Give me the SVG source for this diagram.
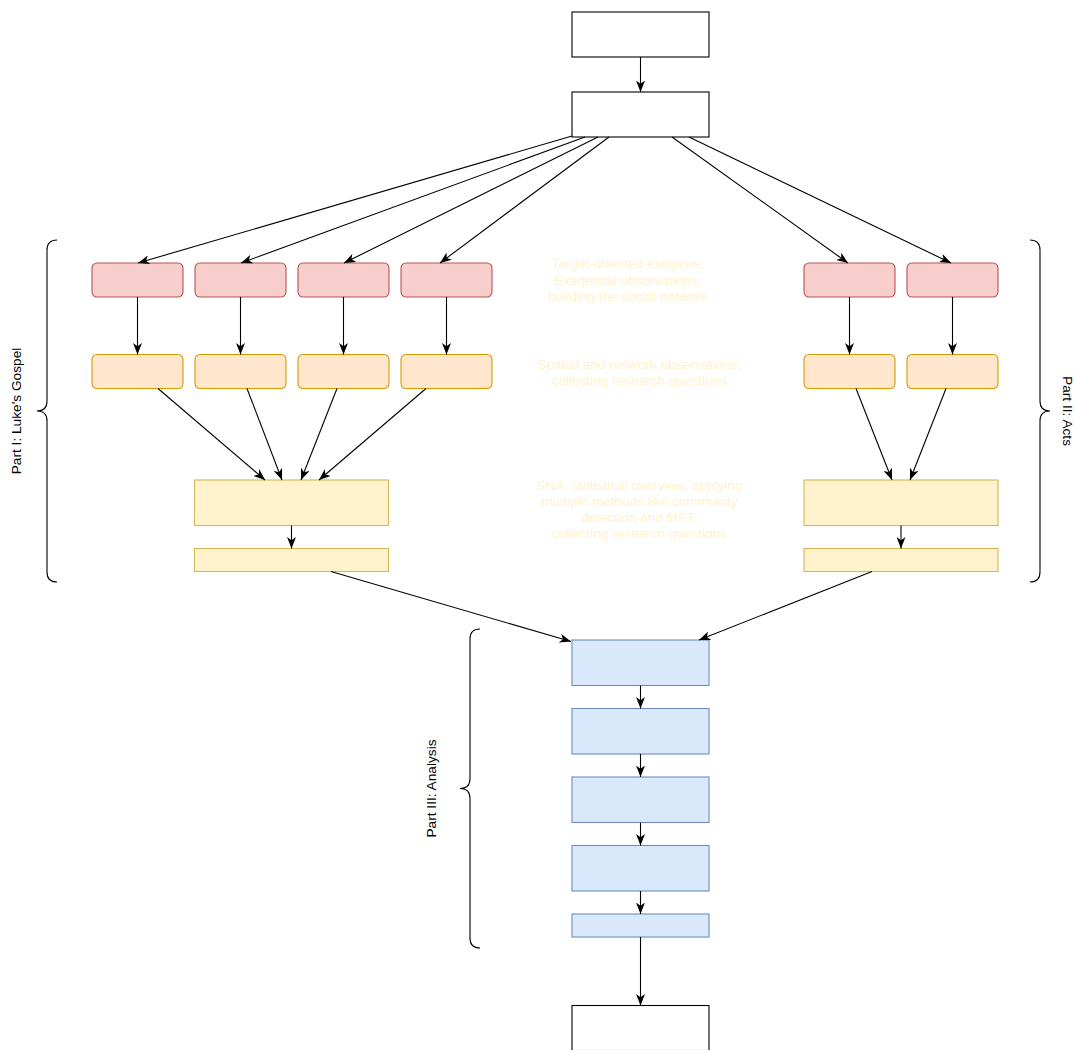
<svg xmlns="http://www.w3.org/2000/svg" width="1075" height="1050" viewBox="0 0 1075 1050">
  <style>
    .plain { fill: #ffffff; stroke: #000000; stroke-width: 1.1; }
    .red { fill: #f8cecc; stroke: #b85450; stroke-width: 1.1; }
    .orange { fill: #ffe6cc; stroke: #d79b00; stroke-width: 1.1; }
    .yellow { fill: #fff2cc; stroke: #d6b656; stroke-width: 1.1; }
    .blue { fill: #dae8fc; stroke: #6c8ebf; stroke-width: 1.1; }
    .edge { fill: none; stroke: #000000; stroke-width: 1.1; marker-end: url(#arrow); }
    .brace { fill: none; stroke: #000000; stroke-width: 1.1; }
    .label { font-family: "Liberation Sans", Arial, sans-serif; font-size: 13.7px; fill: #000000; text-anchor: middle; }
    .note { font-family: "Liberation Sans", Arial, sans-serif; font-size: 13.6px; fill: #fff2cc; text-anchor: middle; }
  </style>
  <defs>
    <marker id="arrow" markerUnits="userSpaceOnUse" viewBox="0 0 12 9" markerWidth="12" markerHeight="9" refX="11.5" refY="4.5" orient="auto">
      <path d="M0,0 L11.5,4.5 L0,9 L3.2,4.5 Z" fill="#000000"/>
    </marker>
  </defs>

  <!-- top boxes -->
  <g id="start"><rect class="plain" x="572" y="12" width="137" height="45"/></g>
  <g id="source"><rect class="plain" x="572" y="92" width="137" height="45"/></g>

  <!-- Part I: Luke's Gospel -->
  <g id="luke-exegesis-1"><rect class="red" x="92" y="263" width="91" height="34" rx="5"/></g>
  <g id="luke-exegesis-2"><rect class="red" x="195" y="263" width="91" height="34" rx="5"/></g>
  <g id="luke-exegesis-3"><rect class="red" x="298" y="263" width="91" height="34" rx="5"/></g>
  <g id="luke-exegesis-4"><rect class="red" x="401" y="263" width="91" height="34" rx="5"/></g>
  <g id="luke-observe-1"><rect class="orange" x="92" y="354.5" width="91" height="34" rx="5"/></g>
  <g id="luke-observe-2"><rect class="orange" x="195" y="354.5" width="91" height="34" rx="5"/></g>
  <g id="luke-observe-3"><rect class="orange" x="298" y="354.5" width="91" height="34" rx="5"/></g>
  <g id="luke-observe-4"><rect class="orange" x="401" y="354.5" width="91" height="34" rx="5"/></g>
  <g id="luke-sna"><rect class="yellow" x="194.5" y="480" width="194" height="45.5"/></g>
  <g id="luke-questions"><rect class="yellow" x="194.5" y="548.5" width="194" height="23"/></g>

  <!-- Part II: Acts -->
  <g id="acts-exegesis-1"><rect class="red" x="804" y="263" width="91" height="34" rx="5"/></g>
  <g id="acts-exegesis-2"><rect class="red" x="907" y="263" width="91" height="34" rx="5"/></g>
  <g id="acts-observe-1"><rect class="orange" x="804" y="354.5" width="91" height="34" rx="5"/></g>
  <g id="acts-observe-2"><rect class="orange" x="907" y="354.5" width="91" height="34" rx="5"/></g>
  <g id="acts-sna"><rect class="yellow" x="804" y="480" width="194" height="45.5"/></g>
  <g id="acts-questions"><rect class="yellow" x="804" y="548.5" width="194" height="23"/></g>

  <!-- Part III: Analysis -->
  <g id="analysis-1"><rect class="blue" x="572" y="640" width="137" height="45.5"/></g>
  <g id="analysis-2"><rect class="blue" x="572" y="708.5" width="137" height="45.5"/></g>
  <g id="analysis-3"><rect class="blue" x="572" y="777" width="137" height="45.5"/></g>
  <g id="analysis-4"><rect class="blue" x="572" y="845.5" width="137" height="45.5"/></g>
  <g id="analysis-5"><rect class="blue" x="572" y="914" width="137" height="23"/></g>

  <g id="end"><rect class="plain" x="572" y="1005.5" width="137" height="45"/></g>

  <!-- step descriptions -->
  <g id="step-notes">
    <text class="note" x="628" y="268">Target-oriented exegesis;</text>
    <text class="note" x="628" y="284.5">Exegetical observations;</text>
    <text class="note" x="628" y="301">building the social network</text>
    <text class="note" x="639.5" y="368.5">Spatial and network observations;</text>
    <text class="note" x="639.5" y="385">collecting research questions</text>
    <text class="note" x="639.5" y="489.5">SNA, statistical overview, applying</text>
    <text class="note" x="639.5" y="505.5">multiple methods like community</text>
    <text class="note" x="639.5" y="521.5">detection and MST;</text>
    <text class="note" x="639.5" y="537.5">collecting research questions</text>
  </g>

  <!-- section braces -->
  <g id="part-1">
    <path class="brace" d="M57,240 Q47,240 47,250 L47,401 Q47,411 37,411 Q47,411 47,421 L47,572 Q47,582 57,582"/>
    <text class="label" transform="translate(21,411) rotate(-90)">Part I: Luke's Gospel</text>
  </g>
  <g id="part-2">
    <path class="brace" d="M1030,240 Q1040,240 1040,250 L1040,401 Q1040,411 1050,411 Q1040,411 1040,421 L1040,572 Q1040,582 1030,582"/>
    <text class="label" transform="translate(1063,411) rotate(90)">Part II: Acts</text>
  </g>
  <g id="part-3">
    <path class="brace" d="M480,629 Q470,629 470,639 L470,778.5 Q470,788.5 460,788.5 Q470,788.5 470,798.5 L470,938 Q470,948 480,948"/>
    <text class="label" transform="translate(436,788.5) rotate(-90)">Part III: Analysis</text>
  </g>

  <!-- connectors -->
  <g id="connectors">
    <line class="edge" x1="640.5" y1="57" x2="640.5" y2="92"/>

    <line class="edge" x1="572" y1="136" x2="138" y2="263"/>
    <line class="edge" x1="585" y1="137" x2="241" y2="263"/>
    <line class="edge" x1="598" y1="137" x2="344" y2="263"/>
    <line class="edge" x1="609" y1="137" x2="440" y2="263"/>
    <line class="edge" x1="672" y1="137" x2="848" y2="263"/>
    <line class="edge" x1="689" y1="137" x2="951" y2="263"/>

    <line class="edge" x1="137.5" y1="297" x2="137.5" y2="354.5"/>
    <line class="edge" x1="240.5" y1="297" x2="240.5" y2="354.5"/>
    <line class="edge" x1="343.5" y1="297" x2="343.5" y2="354.5"/>
    <line class="edge" x1="446.5" y1="297" x2="446.5" y2="354.5"/>
    <line class="edge" x1="849.5" y1="297" x2="849.5" y2="354.5"/>
    <line class="edge" x1="952.5" y1="297" x2="952.5" y2="354.5"/>

    <line class="edge" x1="158" y1="388.5" x2="265" y2="480"/>
    <line class="edge" x1="247" y1="388.5" x2="282" y2="480"/>
    <line class="edge" x1="337" y1="388.5" x2="301" y2="480"/>
    <line class="edge" x1="426" y1="388.5" x2="319" y2="480"/>
    <line class="edge" x1="856" y1="388.5" x2="892" y2="480"/>
    <line class="edge" x1="946" y1="388.5" x2="910" y2="480"/>

    <line class="edge" x1="291.5" y1="525.5" x2="291.5" y2="548.5"/>
    <line class="edge" x1="901" y1="525.5" x2="901" y2="548.5"/>

    <line class="edge" x1="331" y1="571.5" x2="571" y2="641.5"/>
    <line class="edge" x1="872" y1="571.5" x2="699" y2="640"/>

    <line class="edge" x1="640.5" y1="685.5" x2="640.5" y2="708.5"/>
    <line class="edge" x1="640.5" y1="754" x2="640.5" y2="777"/>
    <line class="edge" x1="640.5" y1="822.5" x2="640.5" y2="845.5"/>
    <line class="edge" x1="640.5" y1="891" x2="640.5" y2="914"/>
    <line class="edge" x1="640.5" y1="937" x2="640.5" y2="1005.5"/>
  </g>
</svg>
